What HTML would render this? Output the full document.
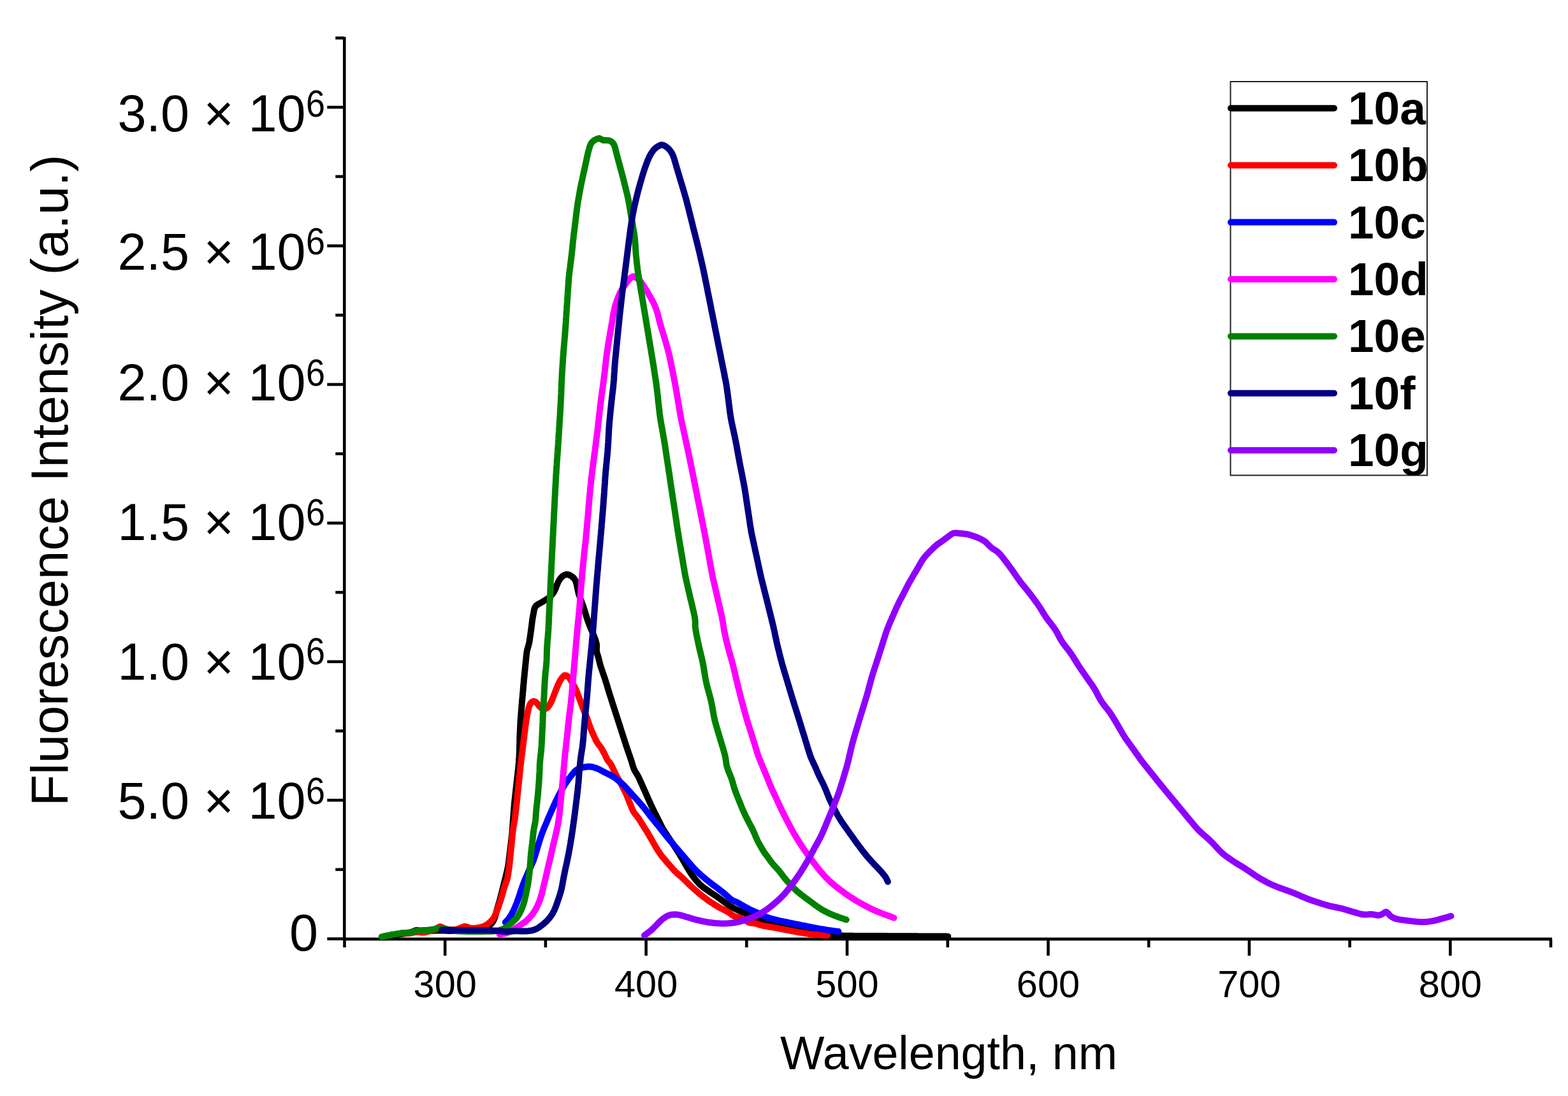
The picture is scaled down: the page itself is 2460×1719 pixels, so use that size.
<!DOCTYPE html>
<html><head><meta charset="utf-8"><style>
html,body{margin:0;padding:0;background:#fff;}
svg{display:block;}
</style></head><body>
<svg xmlns="http://www.w3.org/2000/svg" width="2460" height="1719" viewBox="0 0 2460 1719">
<rect width="2460" height="1719" fill="#fff"/>
<g stroke="#000" stroke-width="4.6" fill="none" stroke-linecap="butt">
<line x1="540.3" y1="58" x2="540.3" y2="1475.2"/>
<line x1="538" y1="1472.9" x2="2435" y2="1472.9"/>
<line x1="513.3" y1="1472.5" x2="540.3" y2="1472.5"/>
<line x1="526.3" y1="1363.8" x2="540.3" y2="1363.8"/>
<line x1="513.3" y1="1255.1" x2="540.3" y2="1255.1"/>
<line x1="526.3" y1="1146.4" x2="540.3" y2="1146.4"/>
<line x1="513.3" y1="1037.8" x2="540.3" y2="1037.8"/>
<line x1="526.3" y1="929.1" x2="540.3" y2="929.1"/>
<line x1="513.3" y1="820.4" x2="540.3" y2="820.4"/>
<line x1="526.3" y1="711.7" x2="540.3" y2="711.7"/>
<line x1="513.3" y1="603.0" x2="540.3" y2="603.0"/>
<line x1="526.3" y1="494.3" x2="540.3" y2="494.3"/>
<line x1="513.3" y1="385.6" x2="540.3" y2="385.6"/>
<line x1="526.3" y1="276.9" x2="540.3" y2="276.9"/>
<line x1="513.3" y1="168.2" x2="540.3" y2="168.2"/>
<line x1="526.3" y1="59.6" x2="540.3" y2="59.6"/>
<line x1="540.5" y1="1472.9" x2="540.5" y2="1485.9"/>
<line x1="698.2" y1="1472.9" x2="698.2" y2="1498.9"/>
<line x1="855.9" y1="1472.9" x2="855.9" y2="1485.9"/>
<line x1="1013.6" y1="1472.9" x2="1013.6" y2="1498.9"/>
<line x1="1171.3" y1="1472.9" x2="1171.3" y2="1485.9"/>
<line x1="1329.0" y1="1472.9" x2="1329.0" y2="1498.9"/>
<line x1="1486.8" y1="1472.9" x2="1486.8" y2="1485.9"/>
<line x1="1644.5" y1="1472.9" x2="1644.5" y2="1498.9"/>
<line x1="1802.2" y1="1472.9" x2="1802.2" y2="1485.9"/>
<line x1="1959.9" y1="1472.9" x2="1959.9" y2="1498.9"/>
<line x1="2117.6" y1="1472.9" x2="2117.6" y2="1485.9"/>
<line x1="2275.3" y1="1472.9" x2="2275.3" y2="1498.9"/>
<line x1="2433.0" y1="1472.9" x2="2433.0" y2="1485.9"/>
</g>
<g font-family="Liberation Sans, Arial, sans-serif" fill="#000">
<text x="479.5" y="1284.0" font-size="81" text-anchor="end">5.0 × 10</text>
<text x="480" y="1260.9" font-size="58.5" textLength="30" lengthAdjust="spacingAndGlyphs">6</text>
<text x="479.5" y="1065.5" font-size="81" text-anchor="end">1.0 × 10</text>
<text x="480" y="1042.4" font-size="58.5" textLength="30" lengthAdjust="spacingAndGlyphs">6</text>
<text x="479.5" y="846.6" font-size="81" text-anchor="end">1.5 × 10</text>
<text x="480" y="823.5" font-size="58.5" textLength="30" lengthAdjust="spacingAndGlyphs">6</text>
<text x="479.5" y="628.1" font-size="81" text-anchor="end">2.0 × 10</text>
<text x="480" y="605.0" font-size="58.5" textLength="30" lengthAdjust="spacingAndGlyphs">6</text>
<text x="479.5" y="422.5" font-size="81" text-anchor="end">2.5 × 10</text>
<text x="480" y="399.4" font-size="58.5" textLength="30" lengthAdjust="spacingAndGlyphs">6</text>
<text x="479.5" y="206.2" font-size="81" text-anchor="end">3.0 × 10</text>
<text x="480" y="183.1" font-size="58.5" textLength="30" lengthAdjust="spacingAndGlyphs">6</text>
<text x="499" y="1491.4" font-size="81" text-anchor="end">0</text>
<text x="698.2" y="1564" font-size="59.5" text-anchor="middle">300</text>
<text x="1013.6" y="1564" font-size="59.5" text-anchor="middle">400</text>
<text x="1329.0" y="1564" font-size="59.5" text-anchor="middle">500</text>
<text x="1644.5" y="1564" font-size="59.5" text-anchor="middle">600</text>
<text x="1959.9" y="1564" font-size="59.5" text-anchor="middle">700</text>
<text x="2275.3" y="1564" font-size="59.5" text-anchor="middle">800</text>
<text x="1488.5" y="1677" font-size="73.6" text-anchor="middle">Wavelength, nm</text>
<text transform="translate(106,753.5) rotate(-90)" font-size="81" text-anchor="middle">Fluorescence Intensity (a.u.)</text>
</g>
<rect x="1930.5" y="128" width="308.5" height="617.5" fill="none" stroke="#222" stroke-width="2"/>
<g font-family="Liberation Sans, Arial, sans-serif" font-weight="bold" font-size="73">
<line x1="1931" y1="169.8" x2="2093" y2="169.8" stroke="#000000" stroke-width="10" stroke-linecap="round"/>
<text x="2115" y="194.8">10a</text>
<line x1="1931" y1="259.2" x2="2093" y2="259.2" stroke="#ff0000" stroke-width="10" stroke-linecap="round"/>
<text x="2115" y="284.2">10b</text>
<line x1="1931" y1="348.6" x2="2093" y2="348.6" stroke="#0000ff" stroke-width="10" stroke-linecap="round"/>
<text x="2115" y="373.6">10c</text>
<line x1="1931" y1="438.0" x2="2093" y2="438.0" stroke="#ff00ff" stroke-width="10" stroke-linecap="round"/>
<text x="2115" y="463.0">10d</text>
<line x1="1931" y1="527.4" x2="2093" y2="527.4" stroke="#008000" stroke-width="10" stroke-linecap="round"/>
<text x="2115" y="552.4">10e</text>
<line x1="1931" y1="616.8" x2="2093" y2="616.8" stroke="#000080" stroke-width="10" stroke-linecap="round"/>
<text x="2115" y="641.8">10f</text>
<line x1="1931" y1="706.2" x2="2093" y2="706.2" stroke="#8f00ff" stroke-width="10" stroke-linecap="round"/>
<text x="2115" y="731.2">10g</text>
</g>
<g fill="none" stroke-width="10" stroke-linejoin="round" stroke-linecap="round">
<path d="M607.3,1468.6 L612.1,1467.8 L615.3,1467.3 L619.2,1466.6 L623.1,1466.0 L627.1,1465.3 L631.0,1464.8 L635.0,1464.2 L639.0,1463.6 L642.9,1462.8 L646.6,1461.6 L650.0,1460.1 L653.2,1459.0 L656.5,1459.3 L660.1,1460.1 L664.0,1460.4 L667.9,1460.3 L671.9,1460.1 L675.9,1459.9 L679.9,1459.7 L683.9,1459.6 L687.9,1459.4 L691.9,1459.5 L696.0,1459.6 L700.0,1459.8 L704.0,1459.9 L708.0,1460.0 L712.0,1460.0 L716.0,1460.0 L720.0,1459.9 L724.0,1459.7 L728.0,1459.5 L732.0,1459.3 L736.0,1459.1 L740.0,1458.9 L744.0,1458.5 L747.9,1457.8 L751.7,1456.8 L755.5,1455.6 L759.4,1454.4 L763.1,1453.2 L766.8,1451.7 L769.9,1449.6 L772.5,1446.8 L774.5,1443.4 L776.1,1439.8 L777.3,1436.0 L778.3,1432.1 L779.3,1428.3 L780.4,1424.4 L781.5,1420.6 L782.6,1416.7 L783.8,1412.9 L784.8,1409.0 L785.9,1405.1 L786.8,1401.3 L787.8,1397.4 L788.8,1393.5 L789.7,1389.6 L790.7,1385.7 L791.7,1381.8 L792.6,1377.9 L793.6,1374.0 L794.6,1370.1 L795.5,1366.3 L796.4,1362.4 L797.2,1358.4 L797.8,1354.5 L798.3,1350.5 L798.7,1346.5 L799.2,1342.5 L799.7,1338.6 L800.2,1334.6 L800.6,1330.6 L801.1,1326.6 L801.6,1322.7 L802.1,1318.7 L802.5,1314.7 L803.0,1310.7 L803.4,1306.7 L803.7,1302.7 L804.0,1298.7 L804.3,1294.7 L804.6,1290.8 L804.9,1286.8 L805.2,1282.8 L805.5,1278.8 L805.8,1274.8 L806.1,1270.8 L806.4,1266.8 L806.8,1262.8 L807.1,1258.8 L807.5,1254.8 L808.0,1250.8 L808.4,1246.9 L808.9,1242.9 L809.3,1238.9 L809.8,1234.9 L810.2,1230.9 L810.6,1227.0 L811.1,1223.0 L811.5,1219.0 L812.0,1215.0 L812.4,1211.0 L812.9,1207.0 L813.3,1203.1 L813.7,1199.1 L814.0,1195.1 L814.2,1191.1 L814.5,1187.1 L814.7,1183.1 L814.9,1179.1 L815.1,1175.1 L815.1,1171.1 L815.2,1167.1 L815.3,1163.1 L815.3,1159.1 L815.4,1155.1 L815.6,1151.1 L815.8,1147.1 L816.0,1143.0 L816.2,1139.0 L816.4,1135.0 L816.6,1131.0 L816.9,1127.1 L817.2,1123.1 L817.5,1119.1 L817.8,1115.1 L818.1,1111.1 L818.4,1107.1 L818.8,1103.1 L819.1,1099.1 L819.5,1095.1 L819.9,1091.1 L820.2,1087.1 L820.6,1083.1 L820.9,1079.1 L821.2,1075.2 L821.6,1071.2 L821.9,1067.2 L822.3,1063.2 L822.7,1059.2 L823.1,1055.2 L823.5,1051.2 L823.9,1047.2 L824.3,1043.3 L824.7,1039.3 L825.1,1035.3 L825.5,1031.3 L825.9,1027.3 L826.4,1023.3 L827.1,1019.4 L828.2,1015.6 L829.3,1011.8 L830.3,1007.9 L830.9,1004.0 L831.5,1000.0 L832.1,996.0 L832.6,992.1 L833.2,988.1 L833.7,984.1 L834.2,980.1 L834.7,976.2 L835.2,972.2 L835.8,968.2 L836.6,964.3 L837.3,960.4 L838.0,956.5 L839.1,952.9 L841.2,949.9 L844.2,947.7 L847.7,945.8 L851.2,943.8 L854.6,941.8 L858.0,939.7 L861.3,937.4 L864.2,934.8 L866.8,931.8 L869.0,928.5 L870.8,925.0 L872.3,921.3 L873.8,917.5 L875.3,913.8 L877.1,910.3 L879.4,907.0 L882.1,904.2 L885.4,902.0 L889.0,900.8 L892.6,901.5 L896.0,903.3 L899.2,905.8 L901.7,908.8 L903.5,912.3 L904.6,916.1 L905.4,920.0 L906.2,923.9 L907.0,927.8 L908.0,931.7 L909.3,935.5 L910.7,939.2 L912.1,942.9 L913.5,946.7 L914.9,950.5 L916.1,954.3 L917.3,958.1 L918.5,961.9 L919.7,965.8 L920.8,969.6 L922.1,973.4 L923.5,977.1 L925.0,980.9 L926.5,984.6 L928.0,988.3 L929.6,992.0 L931.1,995.7 L932.6,999.4 L934.0,1003.1 L935.2,1007.0 L936.0,1010.8 L936.2,1014.6 L935.9,1018.3 L936.0,1022.0 L937.1,1025.7 L938.3,1029.4 L939.4,1033.3 L940.3,1037.2 L941.2,1041.1 L942.3,1044.9 L943.6,1048.7 L944.9,1052.5 L946.2,1056.3 L947.5,1060.1 L948.8,1063.8 L950.0,1067.7 L951.2,1071.5 L952.4,1075.3 L953.5,1079.2 L954.7,1083.0 L955.8,1086.8 L957.0,1090.7 L958.3,1094.5 L959.5,1098.3 L960.7,1102.1 L961.9,1105.9 L963.2,1109.7 L964.4,1113.5 L965.6,1117.4 L966.8,1121.2 L968.1,1125.0 L969.3,1128.8 L970.5,1132.6 L971.8,1136.4 L973.0,1140.2 L974.2,1144.0 L975.4,1147.9 L976.7,1151.7 L977.9,1155.5 L979.1,1159.3 L980.3,1163.1 L981.6,1166.9 L982.8,1170.7 L984.1,1174.5 L985.4,1178.3 L986.7,1182.1 L988.0,1185.9 L989.3,1189.7 L990.6,1193.5 L991.7,1197.3 L992.9,1201.2 L994.1,1204.9 L995.7,1208.6 L997.7,1211.9 L999.8,1215.2 L1001.7,1218.7 L1003.4,1222.3 L1005.0,1226.0 L1006.7,1229.6 L1008.3,1233.3 L1009.9,1237.0 L1011.6,1240.6 L1013.2,1244.3 L1014.8,1247.9 L1016.4,1251.6 L1018.1,1255.3 L1019.7,1258.9 L1021.4,1262.6 L1023.1,1266.2 L1024.8,1269.8 L1026.6,1273.4 L1028.4,1277.0 L1030.2,1280.5 L1032.0,1284.1 L1033.8,1287.7 L1035.6,1291.3 L1037.4,1294.9 L1039.2,1298.4 L1041.2,1301.9 L1043.4,1305.3 L1045.6,1308.6 L1047.8,1311.9 L1050.0,1315.3 L1052.2,1318.6 L1054.5,1321.9 L1056.7,1325.3 L1058.9,1328.6 L1061.1,1332.0 L1063.2,1335.3 L1065.3,1338.8 L1067.4,1342.2 L1069.5,1345.6 L1071.5,1349.1 L1073.5,1352.5 L1075.5,1356.0 L1077.5,1359.5 L1079.6,1362.9 L1081.7,1366.3 L1083.9,1369.7 L1086.1,1373.0 L1088.5,1376.2 L1091.0,1379.3 L1093.6,1382.4 L1096.3,1385.4 L1099.1,1388.2 L1102.1,1390.7 L1105.3,1393.1 L1108.6,1395.4 L1111.9,1397.7 L1115.2,1400.0 L1118.5,1402.2 L1121.9,1404.4 L1125.2,1406.7 L1128.5,1408.9 L1131.7,1411.3 L1134.9,1413.7 L1138.1,1416.1 L1141.3,1418.5 L1144.6,1420.8 L1148.0,1422.8 L1151.6,1424.6 L1155.2,1426.4 L1158.8,1428.1 L1162.5,1429.8 L1166.1,1431.5 L1169.7,1433.1 L1173.4,1434.7 L1177.1,1436.4 L1180.7,1438.0 L1184.4,1439.5 L1188.2,1440.9 L1191.9,1442.3 L1195.7,1443.7 L1199.5,1445.0 L1203.3,1446.2 L1207.1,1447.4 L1211.0,1448.4 L1214.9,1449.5 L1218.7,1450.5 L1222.6,1451.5 L1226.5,1452.6 L1230.3,1453.6 L1234.2,1454.6 L1238.1,1455.6 L1242.0,1456.6 L1245.9,1457.6 L1249.7,1458.6 L1253.6,1459.6 L1257.5,1460.5 L1261.4,1461.3 L1265.4,1462.1 L1269.3,1462.9 L1273.2,1463.6 L1277.2,1464.4 L1281.1,1465.0 L1285.1,1465.5 L1289.1,1465.9 L1293.1,1466.3 L1297.1,1466.7 L1301.0,1466.9 L1305.0,1467.1 L1309.1,1467.2 L1313.1,1467.3 L1317.1,1467.5 L1321.1,1467.6 L1325.1,1467.7 L1329.1,1467.8 L1333.1,1467.8 L1337.1,1467.8 L1341.1,1467.9 L1345.1,1467.9 L1349.1,1467.9 L1353.1,1468.0 L1357.1,1468.0 L1361.1,1468.0 L1365.1,1468.0 L1369.1,1468.0 L1373.1,1468.1 L1377.1,1468.1 L1381.2,1468.1 L1385.2,1468.1 L1389.2,1468.1 L1393.2,1468.2 L1397.2,1468.2 L1401.2,1468.2 L1405.2,1468.2 L1409.2,1468.2 L1413.2,1468.3 L1417.2,1468.3 L1421.2,1468.3 L1425.2,1468.3 L1429.2,1468.3 L1433.2,1468.3 L1437.2,1468.3 L1441.2,1468.4 L1445.3,1468.4 L1449.3,1468.4 L1453.3,1468.4 L1457.3,1468.5 L1461.3,1468.5 L1465.3,1468.5 L1469.3,1468.5 L1473.3,1468.6 L1477.3,1468.6 L1481.0,1468.6 L1483.8,1468.6 L1487.3,1468.7" stroke="#000000"/>
<path d="M630.3,1463.3 L635.1,1463.7 L638.4,1463.8 L642.2,1463.7 L646.0,1463.1 L649.9,1462.1 L653.7,1461.7 L657.5,1462.0 L661.3,1462.6 L665.2,1462.5 L669.0,1461.7 L672.9,1460.6 L676.7,1459.5 L680.5,1458.4 L684.1,1457.0 L687.0,1455.0 L689.4,1453.4 L691.9,1453.6 L694.9,1455.1 L698.4,1456.6 L702.2,1457.7 L706.1,1458.2 L710.1,1458.2 L714.0,1457.9 L717.9,1457.1 L721.6,1455.8 L725.2,1454.2 L728.7,1453.1 L732.0,1453.4 L735.3,1454.8 L738.9,1455.8 L742.7,1455.9 L746.7,1455.5 L750.7,1455.0 L754.6,1454.2 L758.4,1453.0 L762.0,1451.3 L765.3,1449.2 L768.4,1446.7 L771.2,1443.9 L773.7,1440.9 L775.7,1437.5 L777.4,1433.9 L778.9,1430.2 L780.4,1426.4 L781.8,1422.7 L783.0,1418.9 L784.3,1415.1 L785.6,1411.3 L786.8,1407.4 L787.9,1403.6 L789.0,1399.7 L790.0,1395.9 L791.2,1392.0 L792.5,1388.2 L793.9,1384.5 L795.2,1380.7 L796.2,1376.9 L796.9,1373.0 L797.5,1369.0 L798.1,1365.0 L798.7,1361.1 L799.2,1357.1 L799.6,1353.1 L800.0,1349.1 L800.4,1345.1 L800.8,1341.1 L801.2,1337.1 L801.6,1333.1 L802.0,1329.2 L802.4,1325.2 L802.8,1321.2 L803.2,1317.2 L803.6,1313.2 L804.0,1309.2 L804.4,1305.2 L804.9,1301.2 L805.5,1297.3 L806.3,1293.4 L807.0,1289.4 L807.6,1285.5 L808.1,1281.5 L808.6,1277.5 L809.1,1273.5 L809.5,1269.5 L810.0,1265.5 L810.4,1261.6 L810.9,1257.6 L811.3,1253.6 L811.7,1249.6 L812.1,1245.6 L812.5,1241.6 L812.9,1237.6 L813.3,1233.6 L813.7,1229.6 L814.1,1225.7 L814.6,1221.7 L815.0,1217.7 L815.4,1213.7 L815.8,1209.7 L816.2,1205.7 L816.6,1201.7 L817.1,1197.7 L817.6,1193.8 L818.0,1189.8 L818.5,1185.8 L819.0,1181.8 L819.5,1177.8 L820.0,1173.9 L820.5,1169.9 L821.0,1165.9 L821.5,1161.9 L822.0,1157.9 L822.5,1154.0 L823.0,1150.0 L823.5,1146.0 L824.0,1142.0 L824.5,1138.1 L825.0,1134.1 L825.6,1130.1 L826.3,1126.2 L826.9,1122.2 L827.6,1118.3 L828.5,1114.3 L829.4,1110.5 L830.6,1106.7 L832.3,1103.2 L834.7,1100.7 L837.6,1099.8 L840.5,1100.9 L843.0,1103.6 L845.3,1106.7 L847.8,1109.6 L850.9,1111.5 L854.4,1112.0 L857.7,1110.8 L860.3,1108.3 L862.5,1105.0 L864.4,1101.5 L866.1,1097.9 L867.5,1094.2 L869.0,1090.4 L870.4,1086.7 L871.8,1083.0 L873.4,1079.2 L874.9,1075.6 L876.5,1071.9 L878.3,1068.3 L880.4,1065.0 L882.9,1061.9 L885.5,1059.3 L888.5,1059.4 L891.5,1061.6 L894.1,1064.6 L896.1,1068.0 L898.1,1071.5 L900.0,1075.0 L901.9,1078.5 L903.8,1082.1 L905.3,1085.8 L906.7,1089.5 L908.1,1093.3 L909.5,1097.1 L910.9,1100.8 L912.3,1104.6 L913.7,1108.3 L915.2,1112.0 L916.7,1115.8 L918.2,1119.5 L919.7,1123.2 L921.2,1126.9 L922.5,1130.7 L923.8,1134.5 L925.1,1138.3 L926.5,1142.1 L928.0,1145.8 L929.6,1149.4 L931.2,1153.1 L932.9,1156.7 L934.6,1160.4 L936.4,1163.9 L938.5,1167.0 L940.9,1169.9 L943.1,1173.0 L945.1,1176.4 L947.0,1179.8 L948.9,1183.3 L950.5,1186.8 L952.1,1190.4 L954.0,1193.4 L956.4,1196.0 L958.5,1198.9 L960.3,1202.3 L962.0,1206.0 L963.7,1209.6 L965.4,1213.2 L967.3,1216.8 L969.1,1220.3 L971.1,1223.8 L973.1,1227.3 L975.0,1230.8 L976.9,1234.3 L978.7,1237.9 L980.5,1241.5 L982.2,1245.1 L983.8,1248.8 L985.3,1252.5 L986.7,1256.3 L988.2,1260.0 L989.7,1263.7 L991.2,1267.4 L992.9,1271.0 L994.8,1274.5 L997.2,1277.6 L999.7,1280.7 L1002.1,1283.9 L1004.2,1287.3 L1006.4,1290.7 L1008.5,1294.1 L1010.6,1297.5 L1012.7,1300.9 L1014.9,1304.3 L1017.0,1307.7 L1019.0,1311.2 L1021.0,1314.6 L1022.9,1318.1 L1024.9,1321.6 L1026.9,1325.1 L1028.9,1328.6 L1031.0,1332.0 L1033.2,1335.4 L1035.4,1338.7 L1037.7,1342.0 L1040.2,1345.1 L1042.8,1348.1 L1045.4,1351.2 L1048.0,1354.2 L1050.7,1357.3 L1053.3,1360.3 L1055.9,1363.3 L1058.7,1366.2 L1061.6,1369.0 L1064.6,1371.6 L1067.6,1374.3 L1070.6,1376.9 L1073.5,1379.7 L1076.4,1382.5 L1079.2,1385.3 L1082.1,1388.1 L1085.0,1390.9 L1088.0,1393.6 L1091.0,1396.2 L1094.0,1398.8 L1097.0,1401.4 L1100.1,1404.0 L1103.3,1406.4 L1106.5,1408.8 L1109.7,1411.2 L1113.0,1413.6 L1116.3,1415.8 L1119.7,1417.9 L1123.1,1420.1 L1126.5,1422.1 L1130.0,1424.1 L1133.6,1425.9 L1137.2,1427.7 L1140.7,1429.6 L1144.1,1431.6 L1147.2,1433.9 L1150.2,1436.2 L1153.6,1437.7 L1157.4,1438.6 L1161.3,1439.4 L1164.9,1440.7 L1168.3,1442.7 L1171.5,1445.0 L1174.8,1446.9 L1178.3,1447.7 L1182.0,1447.9 L1185.7,1448.5 L1189.5,1449.7 L1193.2,1450.9 L1197.1,1451.9 L1201.0,1452.6 L1205.0,1453.3 L1208.9,1454.0 L1212.9,1454.6 L1216.8,1455.3 L1220.8,1456.0 L1224.7,1456.8 L1228.7,1457.5 L1232.6,1458.3 L1236.5,1459.1 L1240.5,1459.9 L1244.4,1460.7 L1248.3,1461.4 L1252.3,1462.1 L1256.3,1462.7 L1260.2,1463.4 L1264.2,1464.0 L1268.1,1464.7 L1272.1,1465.2 L1276.1,1465.6 L1280.1,1465.9 L1284.1,1466.1 L1288.0,1466.4 L1291.7,1466.6 L1294.5,1466.8 L1298.1,1467.1" stroke="#ff0000"/>
<path d="M792.9,1446.6 L797.1,1442.3 L798.6,1440.1 L800.5,1437.2 L802.5,1434.0 L804.4,1430.5 L806.2,1427.0 L807.8,1423.3 L809.4,1419.6 L810.8,1415.9 L812.2,1412.1 L813.5,1408.3 L814.8,1404.5 L816.0,1400.7 L817.3,1396.9 L818.6,1393.1 L819.9,1389.3 L821.3,1385.6 L822.7,1381.8 L824.3,1378.1 L825.9,1374.4 L827.5,1370.8 L829.1,1367.1 L830.8,1363.5 L832.5,1359.8 L834.1,1356.2 L835.7,1352.5 L837.2,1348.8 L838.5,1345.0 L839.7,1341.2 L840.9,1337.3 L842.0,1333.5 L843.2,1329.7 L844.3,1325.8 L845.5,1322.0 L846.7,1318.1 L847.9,1314.3 L849.2,1310.5 L850.5,1306.8 L852.0,1303.0 L853.5,1299.3 L855.1,1295.6 L856.6,1291.9 L858.2,1288.2 L859.7,1284.5 L861.3,1280.8 L862.9,1277.2 L864.5,1273.5 L866.1,1269.8 L867.7,1266.1 L869.4,1262.5 L871.0,1258.8 L872.8,1255.2 L874.6,1251.6 L876.3,1248.0 L878.2,1244.5 L880.0,1240.9 L882.0,1237.4 L884.1,1234.0 L886.2,1230.6 L888.4,1227.3 L890.7,1224.0 L893.0,1220.7 L895.5,1217.5 L897.9,1214.4 L900.5,1211.3 L903.2,1208.5 L906.5,1206.4 L910.2,1204.9 L914.0,1203.7 L917.9,1203.0 L921.9,1202.5 L925.8,1202.3 L929.7,1203.0 L933.5,1204.2 L937.3,1205.5 L940.9,1207.2 L944.4,1209.1 L948.0,1211.0 L951.6,1212.7 L955.2,1214.5 L958.7,1216.4 L962.1,1218.4 L965.5,1220.6 L968.7,1223.0 L971.8,1225.5 L974.9,1228.1 L977.8,1230.8 L980.6,1233.7 L983.3,1236.6 L986.0,1239.6 L988.6,1242.6 L991.3,1245.6 L994.0,1248.6 L996.8,1251.5 L999.5,1254.5 L1002.1,1257.4 L1004.8,1260.5 L1007.4,1263.5 L1009.9,1266.6 L1012.4,1269.7 L1014.9,1272.9 L1017.3,1276.1 L1019.8,1279.3 L1022.2,1282.4 L1024.8,1285.5 L1027.3,1288.6 L1029.9,1291.7 L1032.5,1294.8 L1034.9,1297.9 L1037.4,1301.1 L1039.8,1304.3 L1042.3,1307.5 L1044.8,1310.6 L1047.3,1313.7 L1049.9,1316.8 L1052.5,1319.8 L1055.1,1322.8 L1057.7,1325.9 L1060.3,1328.9 L1063.0,1332.0 L1065.6,1335.0 L1068.2,1338.1 L1070.8,1341.1 L1073.4,1344.2 L1076.0,1347.2 L1078.6,1350.3 L1081.2,1353.3 L1083.9,1356.3 L1086.5,1359.3 L1089.3,1362.3 L1092.0,1365.1 L1094.9,1368.0 L1097.8,1370.7 L1100.7,1373.4 L1103.8,1376.0 L1106.9,1378.6 L1110.0,1381.1 L1113.1,1383.6 L1116.3,1386.0 L1119.5,1388.4 L1122.7,1390.8 L1126.0,1393.2 L1129.2,1395.7 L1132.3,1398.1 L1135.5,1400.6 L1138.5,1403.2 L1141.5,1405.8 L1144.3,1408.5 L1147.1,1410.8 L1150.0,1412.5 L1153.1,1413.8 L1156.2,1415.1 L1159.4,1416.8 L1162.6,1418.8 L1165.7,1420.6 L1168.9,1422.4 L1172.1,1424.0 L1175.5,1425.8 L1178.9,1427.6 L1182.3,1429.2 L1185.8,1430.7 L1189.4,1432.1 L1193.0,1433.8 L1196.5,1435.5 L1200.1,1437.2 L1203.7,1438.8 L1207.4,1440.1 L1211.2,1441.2 L1215.0,1442.2 L1218.9,1443.1 L1222.8,1444.0 L1226.8,1444.9 L1230.7,1445.7 L1234.6,1446.5 L1238.5,1447.3 L1242.5,1448.1 L1246.4,1448.9 L1250.3,1449.7 L1254.3,1450.5 L1258.2,1451.3 L1262.1,1452.0 L1266.1,1452.8 L1270.0,1453.6 L1273.9,1454.4 L1277.9,1455.1 L1281.8,1455.9 L1285.8,1456.6 L1289.7,1457.3 L1293.7,1457.9 L1297.6,1458.6 L1301.5,1459.2 L1305.1,1459.7 L1308.2,1460.1 L1310.5,1460.4 L1315.5,1461.0" stroke="#0000ff"/>
<path d="M783.7,1465.3 L791.1,1464.4 L793.3,1463.8 L796.0,1462.9 L799.1,1461.5 L802.3,1459.8 L805.6,1457.8 L809.0,1455.7 L812.3,1453.6 L815.7,1451.4 L819.0,1449.2 L822.3,1446.9 L825.4,1444.5 L828.3,1441.8 L831.1,1439.0 L833.7,1436.0 L836.1,1432.9 L838.3,1429.6 L840.4,1426.2 L842.2,1422.7 L843.9,1419.1 L845.5,1415.4 L846.9,1411.7 L848.2,1407.9 L849.4,1404.1 L850.4,1400.2 L851.4,1396.3 L852.3,1392.4 L853.2,1388.6 L854.1,1384.7 L855.1,1380.8 L856.0,1376.9 L856.9,1372.9 L857.8,1369.0 L858.7,1365.1 L859.6,1361.2 L860.5,1357.3 L861.4,1353.4 L862.4,1349.5 L863.3,1345.6 L864.2,1341.7 L865.1,1337.8 L866.0,1333.9 L866.9,1330.0 L867.8,1326.1 L868.7,1322.2 L869.6,1318.3 L870.6,1314.4 L871.5,1310.5 L872.4,1306.6 L873.3,1302.7 L874.1,1298.8 L875.0,1294.9 L875.7,1291.0 L876.3,1287.0 L876.9,1283.1 L877.4,1279.1 L877.8,1275.1 L878.2,1271.1 L878.6,1267.2 L879.0,1263.2 L879.4,1259.2 L879.8,1255.2 L880.2,1251.2 L880.6,1247.2 L881.0,1243.2 L881.4,1239.3 L881.8,1235.3 L882.1,1231.3 L882.5,1227.3 L882.9,1223.3 L883.2,1219.3 L883.6,1215.3 L883.9,1211.3 L884.3,1207.3 L884.6,1203.4 L885.0,1199.4 L885.3,1195.4 L885.7,1191.4 L886.1,1187.4 L886.5,1183.4 L886.9,1179.4 L887.4,1175.5 L887.8,1171.5 L888.3,1167.5 L888.7,1163.5 L889.1,1159.5 L889.6,1155.6 L890.0,1151.6 L890.4,1147.6 L890.8,1143.6 L891.2,1139.6 L891.6,1135.6 L892.1,1131.7 L892.5,1127.7 L893.0,1123.7 L893.5,1119.7 L894.0,1115.8 L894.5,1111.8 L895.0,1107.8 L895.5,1103.8 L895.9,1099.8 L896.3,1095.9 L896.7,1091.9 L897.1,1087.9 L897.4,1083.9 L897.8,1079.9 L898.1,1075.9 L898.5,1071.9 L898.8,1067.9 L899.2,1063.9 L899.5,1060.0 L899.8,1056.0 L900.2,1052.0 L900.5,1048.0 L900.9,1044.0 L901.2,1040.0 L901.6,1036.0 L901.9,1032.0 L902.2,1028.0 L902.6,1024.0 L902.9,1020.0 L903.3,1016.1 L903.6,1012.1 L903.9,1008.1 L904.3,1004.1 L904.6,1000.1 L905.0,996.1 L905.4,992.1 L905.7,988.1 L906.1,984.1 L906.5,980.1 L906.9,976.2 L907.3,972.2 L907.7,968.2 L908.1,964.2 L908.5,960.2 L908.8,956.2 L909.2,952.2 L909.5,948.2 L909.8,944.3 L910.1,940.3 L910.4,936.3 L910.7,932.3 L911.0,928.3 L911.3,924.3 L911.6,920.3 L912.0,916.3 L912.3,912.3 L912.7,908.3 L913.0,904.3 L913.4,900.3 L913.7,896.3 L914.1,892.4 L914.5,888.4 L914.9,884.4 L915.3,880.4 L915.7,876.4 L916.1,872.4 L916.5,868.4 L917.0,864.5 L917.4,860.5 L917.8,856.5 L918.3,852.5 L918.7,848.5 L919.1,844.6 L919.5,840.6 L919.8,836.6 L920.2,832.6 L920.6,828.6 L920.9,824.6 L921.3,820.6 L921.7,816.6 L922.0,812.6 L922.4,808.7 L922.7,804.7 L923.1,800.7 L923.4,796.7 L923.7,792.7 L924.1,788.7 L924.4,784.7 L924.8,780.7 L925.1,776.7 L925.5,772.7 L925.9,768.7 L926.2,764.8 L926.7,760.8 L927.1,756.8 L927.5,752.8 L927.9,748.8 L928.4,744.9 L928.9,740.9 L929.4,736.9 L929.9,732.9 L930.4,729.0 L930.9,725.0 L931.5,721.0 L932.0,717.0 L932.5,713.1 L933.1,709.1 L933.6,705.1 L934.1,701.2 L934.6,697.2 L935.1,693.2 L935.6,689.2 L936.1,685.3 L936.6,681.3 L937.1,677.3 L937.6,673.3 L938.1,669.4 L938.5,665.4 L939.0,661.4 L939.4,657.4 L939.9,653.4 L940.3,649.5 L940.7,645.5 L941.2,641.5 L941.6,637.5 L942.1,633.5 L942.6,629.6 L943.1,625.6 L943.6,621.6 L944.2,617.7 L944.7,613.7 L945.3,609.7 L945.8,605.8 L946.4,601.8 L946.9,597.8 L947.4,593.8 L947.9,589.9 L948.4,585.9 L948.9,581.9 L949.3,577.9 L949.7,574.0 L950.2,570.0 L950.6,566.0 L951.1,562.0 L951.6,558.0 L952.1,554.1 L952.7,550.1 L953.3,546.2 L953.9,542.2 L954.6,538.2 L955.2,534.3 L955.9,530.3 L956.5,526.4 L957.2,522.4 L957.9,518.5 L958.6,514.6 L959.3,510.6 L960.0,506.7 L960.6,502.7 L961.3,498.8 L961.9,494.8 L962.6,490.9 L963.4,487.0 L964.3,483.1 L965.3,479.2 L966.5,475.4 L967.8,471.6 L969.1,467.9 L970.6,464.2 L972.2,460.5 L974.0,457.0 L976.0,453.6 L978.3,450.3 L980.6,447.0 L983.0,443.8 L985.4,440.6 L988.0,437.6 L990.7,434.8 L993.5,433.4 L996.7,434.7 L1000.0,436.9 L1003.1,439.4 L1005.6,442.4 L1007.9,445.7 L1010.2,449.0 L1012.3,452.4 L1014.4,455.8 L1016.5,459.2 L1018.5,462.7 L1020.4,466.2 L1022.4,469.7 L1024.3,473.2 L1026.1,476.8 L1027.7,480.4 L1029.2,484.1 L1030.5,487.8 L1031.6,491.6 L1032.6,495.5 L1033.6,499.4 L1034.5,503.3 L1035.6,507.1 L1036.6,511.0 L1037.8,514.8 L1039.0,518.7 L1040.2,522.5 L1041.4,526.3 L1042.5,530.1 L1043.7,534.0 L1044.8,537.8 L1045.9,541.7 L1047.0,545.5 L1048.0,549.4 L1049.0,553.3 L1050.0,557.1 L1050.9,561.1 L1051.7,565.0 L1052.5,568.9 L1053.3,572.8 L1054.1,576.7 L1054.9,580.7 L1055.7,584.6 L1056.4,588.5 L1057.2,592.5 L1058.0,596.4 L1058.8,600.3 L1059.5,604.3 L1060.2,608.2 L1060.9,612.1 L1061.6,616.1 L1062.2,620.0 L1062.9,624.0 L1063.6,627.9 L1064.2,631.9 L1064.9,635.8 L1065.5,639.8 L1066.2,643.7 L1066.9,647.7 L1067.6,651.6 L1068.3,655.6 L1069.1,659.5 L1069.9,663.4 L1070.8,667.3 L1071.6,671.2 L1072.5,675.2 L1073.3,679.1 L1074.2,683.0 L1075.0,686.9 L1075.9,690.8 L1076.7,694.7 L1077.6,698.6 L1078.4,702.6 L1079.3,706.5 L1080.1,710.4 L1080.9,714.3 L1081.8,718.2 L1082.6,722.1 L1083.4,726.1 L1084.2,730.0 L1085.0,733.9 L1085.8,737.8 L1086.6,741.8 L1087.4,745.7 L1088.2,749.6 L1088.9,753.6 L1089.7,757.5 L1090.5,761.4 L1091.3,765.3 L1092.1,769.3 L1092.9,773.2 L1093.7,777.1 L1094.4,781.0 L1095.2,785.0 L1096.0,788.9 L1096.8,792.8 L1097.6,796.8 L1098.4,800.7 L1099.2,804.6 L1099.9,808.5 L1100.7,812.5 L1101.5,816.4 L1102.3,820.3 L1103.1,824.3 L1103.8,828.2 L1104.6,832.1 L1105.4,836.0 L1106.1,840.0 L1106.9,843.9 L1107.6,847.9 L1108.3,851.8 L1109.1,855.7 L1109.8,859.7 L1110.5,863.6 L1111.3,867.5 L1112.0,871.5 L1112.7,875.4 L1113.4,879.4 L1114.1,883.3 L1114.8,887.3 L1115.6,891.2 L1116.3,895.1 L1117.0,899.1 L1117.8,903.0 L1118.6,906.9 L1119.5,910.8 L1120.4,914.7 L1121.3,918.6 L1122.2,922.5 L1123.1,926.4 L1124.0,930.3 L1124.9,934.2 L1125.8,938.1 L1126.7,942.0 L1127.6,945.9 L1128.5,949.8 L1129.4,953.7 L1130.3,957.6 L1131.2,961.6 L1132.1,965.5 L1132.9,969.4 L1133.6,973.3 L1134.3,977.2 L1134.9,981.1 L1135.5,985.1 L1136.2,989.0 L1137.0,992.9 L1137.8,996.8 L1138.7,1000.8 L1139.5,1004.7 L1140.5,1008.6 L1141.4,1012.4 L1142.5,1016.3 L1143.5,1020.2 L1144.6,1024.0 L1145.7,1027.9 L1146.8,1031.7 L1147.9,1035.6 L1148.9,1039.5 L1149.9,1043.3 L1150.9,1047.2 L1151.8,1051.1 L1152.8,1055.0 L1153.7,1058.9 L1154.6,1062.8 L1155.6,1066.7 L1156.5,1070.6 L1157.4,1074.5 L1158.4,1078.4 L1159.4,1082.3 L1160.3,1086.1 L1161.3,1090.0 L1162.3,1093.9 L1163.3,1097.8 L1164.3,1101.7 L1165.4,1105.5 L1166.4,1109.4 L1167.5,1113.3 L1168.5,1117.1 L1169.6,1121.0 L1170.7,1124.8 L1171.8,1128.7 L1173.0,1132.5 L1174.2,1136.3 L1175.4,1140.1 L1176.6,1144.0 L1177.9,1147.8 L1179.1,1151.6 L1180.3,1155.4 L1181.5,1159.2 L1182.7,1163.0 L1183.9,1166.9 L1185.0,1170.7 L1186.2,1174.5 L1187.4,1178.4 L1188.6,1182.2 L1189.9,1186.0 L1191.3,1189.7 L1192.8,1193.4 L1194.3,1197.1 L1195.9,1200.8 L1197.4,1204.5 L1199.0,1208.2 L1200.5,1211.9 L1202.0,1215.6 L1203.5,1219.3 L1205.0,1223.0 L1206.4,1226.7 L1207.9,1230.4 L1209.5,1234.1 L1211.1,1237.7 L1212.8,1241.4 L1214.5,1245.0 L1216.2,1248.6 L1217.9,1252.2 L1219.6,1255.9 L1221.2,1259.5 L1222.9,1263.2 L1224.6,1266.8 L1226.4,1270.4 L1228.2,1274.0 L1229.9,1277.6 L1231.7,1281.1 L1233.5,1284.7 L1235.4,1288.3 L1237.2,1291.8 L1239.1,1295.4 L1241.0,1298.9 L1242.9,1302.4 L1244.9,1305.9 L1246.9,1309.3 L1249.0,1312.8 L1251.0,1316.2 L1253.2,1319.6 L1255.3,1323.0 L1257.5,1326.3 L1259.7,1329.7 L1262.0,1333.0 L1264.3,1336.3 L1266.6,1339.5 L1269.0,1342.7 L1271.4,1345.9 L1273.8,1349.2 L1276.2,1352.4 L1278.6,1355.6 L1281.0,1358.7 L1283.5,1361.9 L1286.0,1365.0 L1288.5,1368.1 L1291.1,1371.1 L1293.8,1374.1 L1296.6,1377.0 L1299.4,1379.8 L1302.3,1382.5 L1305.3,1385.2 L1308.4,1387.8 L1311.5,1390.3 L1314.6,1392.8 L1317.8,1395.2 L1321.0,1397.6 L1324.2,1400.0 L1327.5,1402.3 L1330.8,1404.6 L1334.1,1406.8 L1337.5,1409.0 L1340.8,1411.1 L1344.3,1413.2 L1347.7,1415.2 L1351.2,1417.2 L1354.7,1419.1 L1358.2,1421.0 L1361.8,1422.9 L1365.4,1424.7 L1369.0,1426.4 L1372.6,1428.1 L1376.2,1429.7 L1379.9,1431.2 L1383.6,1432.6 L1387.1,1433.9 L1390.4,1435.1 L1393.1,1436.1 L1395.4,1436.9 L1402.4,1439.6" stroke="#ff00ff"/>
<path d="M598.7,1469.3 L604.7,1468.0 L607.3,1467.5 L610.7,1466.8 L614.4,1466.0 L618.3,1465.4 L622.3,1464.8 L626.2,1464.3 L630.2,1463.8 L634.2,1463.4 L638.2,1463.0 L642.1,1462.5 L645.9,1461.8 L649.6,1461.0 L653.3,1460.1 L657.0,1459.5 L660.9,1459.3 L664.8,1459.1 L668.8,1458.9 L672.8,1458.5 L676.7,1458.0 L680.6,1457.3 L684.4,1456.5 L688.1,1455.8 L691.7,1455.7 L695.3,1456.2 L698.9,1457.1 L702.7,1458.0 L706.5,1458.8 L710.5,1459.5 L714.4,1460.0 L718.4,1460.4 L722.4,1460.6 L726.4,1460.8 L730.4,1460.8 L734.4,1460.9 L738.4,1460.9 L742.4,1460.9 L746.4,1461.0 L750.4,1460.9 L754.4,1460.9 L758.4,1460.9 L762.4,1460.8 L766.4,1460.8 L770.4,1460.7 L774.4,1460.4 L778.4,1460.0 L782.3,1459.4 L786.0,1458.4 L789.6,1457.0 L792.9,1455.0 L796.1,1452.7 L799.2,1450.2 L802.3,1447.6 L805.3,1445.0 L808.2,1442.3 L810.8,1439.4 L813.0,1436.2 L815.0,1432.8 L816.8,1429.2 L818.4,1425.6 L820.0,1421.9 L821.3,1418.2 L822.4,1414.3 L823.4,1410.5 L824.3,1406.6 L825.1,1402.7 L826.0,1398.7 L826.7,1394.8 L827.5,1390.9 L828.2,1386.9 L828.9,1383.0 L829.4,1379.0 L829.9,1375.1 L830.4,1371.1 L830.8,1367.1 L831.2,1363.1 L831.5,1359.1 L831.8,1355.2 L832.1,1351.2 L832.4,1347.2 L832.7,1343.2 L833.0,1339.2 L833.5,1335.2 L833.9,1331.2 L834.4,1327.3 L834.9,1323.3 L835.3,1319.3 L835.8,1315.3 L836.2,1311.4 L836.6,1307.4 L837.1,1303.4 L837.7,1299.5 L838.5,1295.5 L839.3,1291.6 L839.9,1287.7 L840.4,1283.8 L840.6,1279.9 L840.9,1275.9 L841.2,1272.0 L841.6,1268.0 L842.0,1264.0 L842.5,1260.0 L842.9,1256.1 L843.3,1252.1 L843.8,1248.1 L844.1,1244.1 L844.4,1240.1 L844.8,1236.1 L845.1,1232.1 L845.4,1228.2 L845.7,1224.2 L845.9,1220.2 L846.2,1216.2 L846.4,1212.2 L846.6,1208.2 L846.7,1204.2 L846.8,1200.2 L847.1,1196.2 L847.4,1192.2 L847.8,1188.2 L848.2,1184.3 L848.7,1180.3 L849.1,1176.3 L849.4,1172.3 L849.7,1168.3 L849.9,1164.3 L850.1,1160.3 L850.3,1156.3 L850.5,1152.3 L850.7,1148.3 L850.9,1144.3 L851.1,1140.3 L851.3,1136.3 L851.5,1132.4 L851.6,1128.3 L851.7,1124.3 L851.9,1120.3 L852.0,1116.3 L852.2,1112.4 L852.4,1108.4 L852.7,1104.4 L853.0,1100.4 L853.3,1096.4 L853.5,1092.4 L853.7,1088.4 L853.9,1084.4 L854.1,1080.4 L854.3,1076.4 L854.5,1072.4 L854.8,1068.4 L855.0,1064.4 L855.3,1060.4 L855.6,1056.4 L856.0,1052.5 L856.5,1048.5 L856.9,1044.5 L857.2,1040.5 L857.5,1036.5 L857.7,1032.5 L857.8,1028.5 L857.9,1024.5 L858.0,1020.5 L858.2,1016.5 L858.4,1012.5 L858.7,1008.6 L859.0,1004.6 L859.4,1000.6 L859.7,996.6 L860.0,992.6 L860.3,988.6 L860.5,984.6 L860.7,980.6 L860.9,976.6 L861.1,972.6 L861.2,968.6 L861.4,964.6 L861.6,960.6 L861.8,956.6 L862.0,952.6 L862.2,948.6 L862.5,944.6 L862.7,940.6 L862.9,936.6 L863.1,932.6 L863.3,928.6 L863.4,924.6 L863.6,920.6 L863.8,916.6 L863.9,912.6 L864.1,908.6 L864.3,904.7 L864.5,900.7 L864.7,896.7 L864.9,892.7 L865.1,888.7 L865.3,884.7 L865.5,880.7 L865.7,876.7 L865.9,872.7 L866.1,868.7 L866.3,864.7 L866.5,860.7 L866.7,856.7 L866.9,852.7 L867.1,848.7 L867.3,844.7 L867.5,840.7 L867.7,836.7 L867.9,832.7 L868.1,828.7 L868.3,824.7 L868.5,820.7 L868.7,816.7 L868.9,812.7 L869.1,808.7 L869.3,804.7 L869.5,800.7 L869.7,796.7 L869.9,792.7 L870.1,788.7 L870.3,784.7 L870.5,780.7 L870.7,776.7 L870.9,772.7 L871.1,768.7 L871.3,764.7 L871.6,760.7 L871.8,756.7 L872.0,752.7 L872.2,748.7 L872.4,744.7 L872.7,740.7 L872.9,736.7 L873.2,732.8 L873.5,728.8 L873.7,724.8 L874.0,720.8 L874.3,716.8 L874.6,712.8 L874.9,708.8 L875.1,704.8 L875.4,700.8 L875.7,696.8 L875.9,692.8 L876.2,688.8 L876.4,684.8 L876.7,680.8 L877.0,676.8 L877.2,672.8 L877.5,668.9 L877.7,664.9 L878.0,660.9 L878.2,656.9 L878.5,652.9 L878.7,648.9 L878.9,644.9 L879.2,640.9 L879.4,636.9 L879.6,632.9 L879.8,628.9 L880.0,624.9 L880.2,620.9 L880.4,616.9 L880.5,612.9 L880.7,608.9 L880.8,604.9 L881.0,600.9 L881.2,596.9 L881.4,592.9 L881.6,588.9 L881.8,584.9 L882.1,580.9 L882.3,576.9 L882.6,572.9 L882.9,568.9 L883.1,564.9 L883.4,560.9 L883.7,556.9 L884.0,553.0 L884.3,549.0 L884.6,545.0 L885.0,541.0 L885.3,537.0 L885.6,533.0 L886.0,529.0 L886.3,525.0 L886.6,521.0 L886.9,517.1 L887.2,513.1 L887.5,509.1 L887.8,505.1 L888.0,501.1 L888.3,497.1 L888.5,493.1 L888.8,489.1 L889.1,485.1 L889.3,481.1 L889.6,477.1 L889.9,473.1 L890.1,469.1 L890.4,465.1 L890.7,461.1 L890.9,457.1 L891.2,453.1 L891.5,449.2 L891.8,445.2 L892.0,441.2 L892.3,437.2 L892.7,433.2 L893.1,429.2 L893.6,425.2 L894.1,421.3 L894.6,417.3 L895.1,413.3 L895.6,409.4 L896.1,405.4 L896.6,401.4 L897.1,397.4 L897.5,393.5 L897.9,389.5 L898.3,385.5 L898.7,381.5 L899.1,377.5 L899.6,373.6 L900.0,369.6 L900.5,365.6 L901.0,361.6 L901.5,357.7 L902.0,353.7 L902.5,349.7 L902.9,345.7 L903.4,341.8 L903.9,337.8 L904.4,333.8 L904.9,329.8 L905.4,325.9 L906.0,321.9 L906.5,318.0 L907.2,314.0 L907.9,310.1 L908.6,306.1 L909.3,302.2 L910.0,298.2 L910.8,294.3 L911.5,290.4 L912.3,286.5 L913.2,282.6 L914.0,278.6 L914.9,274.7 L915.7,270.8 L916.6,266.9 L917.4,263.0 L918.3,259.1 L919.1,255.2 L920.0,251.3 L920.8,247.3 L921.7,243.4 L922.6,239.5 L923.6,235.7 L924.7,231.8 L925.9,228.1 L927.6,224.6 L930.1,221.7 L933.3,219.4 L936.9,217.7 L940.4,217.0 L943.4,218.6 L946.5,220.1 L950.1,220.1 L954.0,220.2 L957.7,221.1 L960.8,223.3 L963.1,226.4 L964.5,230.0 L965.5,233.8 L966.5,237.7 L967.5,241.6 L968.4,245.4 L969.5,249.3 L970.5,253.2 L971.6,257.0 L972.6,260.9 L973.7,264.8 L974.7,268.6 L975.8,272.5 L976.8,276.4 L977.8,280.2 L978.8,284.1 L979.7,288.0 L980.7,291.9 L981.7,295.8 L982.6,299.7 L983.6,303.5 L984.5,307.4 L985.4,311.3 L986.2,315.3 L986.9,319.2 L987.6,323.1 L988.3,327.1 L988.9,331.0 L989.5,335.0 L990.2,338.9 L990.9,342.9 L991.6,346.8 L992.3,350.8 L992.9,354.7 L993.6,358.7 L994.3,362.6 L994.9,366.6 L995.5,370.5 L996.0,374.5 L996.3,378.5 L996.6,382.5 L996.9,386.4 L997.1,390.4 L997.4,394.4 L997.7,398.4 L998.1,402.4 L998.5,406.4 L998.9,410.4 L999.3,414.4 L999.8,418.3 L1000.3,422.3 L1000.8,426.3 L1001.4,430.2 L1002.1,434.2 L1002.7,438.1 L1003.4,442.1 L1004.1,446.0 L1004.7,450.0 L1005.4,453.9 L1006.0,457.9 L1006.7,461.8 L1007.4,465.8 L1008.0,469.7 L1008.7,473.7 L1009.3,477.6 L1010.0,481.5 L1010.6,485.5 L1011.3,489.4 L1012.0,493.4 L1012.6,497.3 L1013.3,501.3 L1013.9,505.2 L1014.6,509.2 L1015.2,513.1 L1015.9,517.1 L1016.6,521.0 L1017.2,525.0 L1017.9,528.9 L1018.5,532.9 L1019.2,536.8 L1019.9,540.8 L1020.5,544.7 L1021.2,548.7 L1021.8,552.6 L1022.5,556.6 L1023.1,560.5 L1023.8,564.5 L1024.4,568.4 L1025.1,572.4 L1025.7,576.3 L1026.3,580.3 L1026.9,584.2 L1027.5,588.2 L1028.1,592.2 L1028.7,596.1 L1029.3,600.1 L1029.8,604.0 L1030.3,608.0 L1030.8,612.0 L1031.3,616.0 L1031.7,619.9 L1032.2,623.9 L1032.6,627.9 L1033.0,631.9 L1033.5,635.8 L1033.9,639.8 L1034.4,643.8 L1034.8,647.8 L1035.3,651.8 L1035.9,655.7 L1036.5,659.7 L1037.2,663.6 L1037.9,667.6 L1038.6,671.5 L1039.3,675.4 L1040.0,679.4 L1040.7,683.3 L1041.4,687.3 L1042.0,691.2 L1042.7,695.2 L1043.3,699.1 L1043.9,703.1 L1044.5,707.0 L1045.1,711.0 L1045.7,714.9 L1046.3,718.9 L1046.9,722.9 L1047.5,726.8 L1048.1,730.8 L1048.7,734.7 L1049.3,738.7 L1049.9,742.6 L1050.5,746.6 L1051.0,750.6 L1051.6,754.5 L1052.2,758.5 L1052.8,762.4 L1053.4,766.4 L1054.0,770.4 L1054.6,774.3 L1055.2,778.3 L1055.8,782.2 L1056.4,786.2 L1057.0,790.1 L1057.6,794.1 L1058.2,798.1 L1058.8,802.0 L1059.4,806.0 L1060.0,809.9 L1060.6,813.9 L1061.2,817.9 L1061.7,821.8 L1062.3,825.8 L1062.9,829.7 L1063.5,833.7 L1064.2,837.7 L1064.8,841.6 L1065.5,845.6 L1066.1,849.5 L1066.8,853.4 L1067.4,857.4 L1068.1,861.3 L1068.7,865.3 L1069.4,869.2 L1070.1,873.2 L1070.7,877.1 L1071.4,881.1 L1072.0,885.0 L1072.7,889.0 L1073.4,892.9 L1074.0,896.9 L1074.7,900.8 L1075.5,904.7 L1076.3,908.7 L1077.2,912.6 L1078.1,916.5 L1079.0,920.4 L1079.9,924.3 L1080.8,928.2 L1081.7,932.1 L1082.6,936.0 L1083.5,939.9 L1084.5,943.8 L1085.4,947.7 L1086.3,951.6 L1087.2,955.5 L1088.1,959.3 L1089.0,963.2 L1089.8,967.1 L1090.4,971.0 L1090.7,974.8 L1090.7,978.6 L1090.8,982.5 L1091.2,986.3 L1091.8,990.2 L1092.5,994.2 L1093.3,998.1 L1094.1,1002.0 L1094.9,1005.9 L1095.7,1009.8 L1096.6,1013.8 L1097.5,1017.7 L1098.4,1021.5 L1099.4,1025.4 L1100.3,1029.3 L1101.2,1033.2 L1102.1,1037.1 L1102.9,1041.1 L1103.6,1045.0 L1104.3,1048.9 L1104.9,1052.9 L1105.6,1056.8 L1106.2,1060.8 L1106.9,1064.7 L1107.7,1068.7 L1108.5,1072.6 L1109.5,1076.4 L1110.5,1080.3 L1111.6,1084.2 L1112.6,1088.0 L1113.7,1091.9 L1114.7,1095.8 L1115.6,1099.6 L1116.4,1103.6 L1117.2,1107.5 L1117.9,1111.4 L1118.6,1115.4 L1119.3,1119.3 L1120.0,1123.2 L1120.8,1127.2 L1121.7,1131.1 L1122.8,1134.9 L1123.9,1138.8 L1125.0,1142.6 L1126.1,1146.4 L1127.3,1150.3 L1128.4,1154.1 L1129.6,1157.9 L1130.7,1161.8 L1131.9,1165.6 L1133.0,1169.4 L1134.2,1173.3 L1135.3,1177.1 L1136.4,1180.9 L1137.4,1184.8 L1138.2,1188.7 L1138.8,1192.6 L1139.3,1196.5 L1140.0,1200.4 L1141.0,1204.2 L1142.3,1207.9 L1143.8,1211.6 L1145.3,1215.3 L1146.8,1218.9 L1148.1,1222.6 L1149.3,1226.4 L1150.3,1230.2 L1151.4,1234.1 L1152.6,1237.9 L1153.9,1241.6 L1155.4,1245.4 L1156.8,1249.1 L1158.3,1252.8 L1159.8,1256.5 L1161.3,1260.2 L1162.8,1264.0 L1164.3,1267.7 L1165.9,1271.3 L1167.5,1275.0 L1169.2,1278.6 L1171.0,1282.2 L1172.8,1285.8 L1174.6,1289.3 L1176.5,1292.9 L1178.4,1296.4 L1180.2,1299.9 L1181.9,1303.5 L1183.6,1307.2 L1185.1,1310.9 L1186.7,1314.6 L1188.3,1318.2 L1190.1,1321.7 L1192.1,1325.2 L1194.1,1328.7 L1196.1,1332.1 L1198.1,1335.5 L1200.4,1338.8 L1202.8,1342.0 L1205.1,1345.1 L1207.4,1348.4 L1209.7,1351.6 L1212.2,1354.7 L1214.8,1357.7 L1217.5,1360.6 L1220.2,1363.6 L1222.8,1366.6 L1225.3,1369.7 L1227.7,1372.9 L1230.1,1376.1 L1232.6,1379.2 L1235.2,1382.2 L1238.0,1385.1 L1240.8,1387.9 L1243.5,1390.8 L1246.2,1393.7 L1249.0,1396.5 L1252.0,1399.2 L1255.1,1401.7 L1258.2,1404.1 L1261.4,1406.5 L1264.6,1408.9 L1267.8,1411.3 L1271.1,1413.7 L1274.3,1416.1 L1277.5,1418.5 L1280.7,1420.8 L1284.0,1423.1 L1287.4,1425.3 L1290.8,1427.4 L1294.3,1429.3 L1297.8,1431.1 L1301.5,1432.8 L1305.1,1434.3 L1308.8,1435.9 L1312.5,1437.3 L1316.1,1438.6 L1319.3,1439.7 L1321.9,1440.6 L1327.7,1442.5" stroke="#008000"/>
<path d="M693.3,1458.6 L700.2,1458.7 L702.7,1458.7 L705.9,1458.8 L709.5,1458.8 L713.4,1458.9 L717.4,1458.9 L721.4,1459.0 L725.4,1459.0 L729.4,1459.0 L733.4,1459.0 L737.4,1459.0 L741.4,1459.0 L745.4,1459.0 L749.4,1459.0 L753.4,1459.1 L757.4,1459.1 L761.4,1459.2 L765.4,1459.2 L769.4,1459.3 L773.4,1459.5 L777.4,1459.7 L781.4,1460.0 L785.3,1460.4 L789.3,1460.7 L793.2,1460.9 L797.1,1460.9 L800.9,1460.7 L804.7,1460.4 L808.5,1460.3 L812.4,1460.3 L816.4,1460.4 L820.3,1460.5 L824.3,1460.5 L828.3,1460.3 L832.2,1459.8 L836.0,1459.0 L839.6,1457.7 L843.1,1456.1 L846.4,1454.0 L849.6,1451.6 L852.7,1449.1 L855.7,1446.5 L858.6,1443.8 L861.2,1440.8 L863.7,1437.7 L865.9,1434.4 L867.9,1431.0 L869.7,1427.5 L871.3,1423.8 L872.7,1420.1 L874.1,1416.3 L875.3,1412.5 L876.6,1408.8 L877.8,1405.0 L879.0,1401.2 L880.1,1397.3 L881.1,1393.5 L881.9,1389.6 L882.6,1385.6 L883.3,1381.7 L884.0,1377.8 L884.8,1373.8 L885.6,1369.9 L886.4,1366.0 L887.2,1362.1 L888.1,1358.2 L889.0,1354.2 L889.8,1350.3 L890.6,1346.4 L891.4,1342.5 L892.2,1338.6 L892.9,1334.6 L893.6,1330.7 L894.3,1326.7 L895.0,1322.8 L895.6,1318.8 L896.3,1314.9 L896.9,1310.9 L897.5,1307.0 L898.1,1303.0 L898.7,1299.1 L899.2,1295.1 L899.8,1291.1 L900.3,1287.2 L900.9,1283.2 L901.4,1279.2 L901.9,1275.3 L902.4,1271.3 L902.9,1267.3 L903.4,1263.3 L903.9,1259.4 L904.4,1255.4 L904.9,1251.4 L905.4,1247.4 L905.8,1243.5 L906.3,1239.5 L906.7,1235.5 L907.1,1231.5 L907.5,1227.5 L907.8,1223.6 L908.1,1219.6 L908.4,1215.6 L908.7,1211.6 L909.1,1207.6 L909.5,1203.6 L909.9,1199.6 L910.3,1195.6 L910.7,1191.7 L911.2,1187.7 L911.8,1183.7 L912.4,1179.8 L913.0,1175.9 L913.7,1171.9 L914.2,1168.0 L914.6,1164.0 L915.0,1160.0 L915.3,1156.0 L915.6,1152.0 L915.9,1148.0 L916.2,1144.0 L916.5,1140.0 L916.8,1136.1 L917.2,1132.1 L917.6,1128.1 L917.9,1124.1 L918.3,1120.1 L918.7,1116.1 L919.1,1112.1 L919.5,1108.2 L919.9,1104.2 L920.3,1100.2 L920.6,1096.2 L921.0,1092.2 L921.3,1088.2 L921.6,1084.2 L921.9,1080.2 L922.2,1076.2 L922.5,1072.3 L922.8,1068.3 L923.1,1064.3 L923.5,1060.3 L923.8,1056.3 L924.2,1052.3 L924.6,1048.3 L925.0,1044.3 L925.4,1040.4 L925.8,1036.4 L926.2,1032.4 L926.6,1028.4 L927.0,1024.4 L927.4,1020.4 L927.8,1016.4 L928.2,1012.5 L928.6,1008.5 L928.9,1004.5 L929.3,1000.5 L929.7,996.5 L930.1,992.5 L930.4,988.5 L930.7,984.6 L931.0,980.6 L931.3,976.6 L931.6,972.6 L931.9,968.6 L932.2,964.6 L932.5,960.6 L932.8,956.6 L933.1,952.6 L933.4,948.6 L933.7,944.6 L934.0,940.6 L934.3,936.6 L934.6,932.7 L934.9,928.7 L935.2,924.7 L935.5,920.7 L935.8,916.7 L936.2,912.7 L936.5,908.7 L936.8,904.7 L937.2,900.7 L937.5,896.7 L937.9,892.7 L938.2,888.8 L938.5,884.8 L938.9,880.8 L939.2,876.8 L939.6,872.8 L940.0,868.8 L940.3,864.8 L940.7,860.8 L941.0,856.9 L941.4,852.9 L941.7,848.9 L942.1,844.9 L942.4,840.9 L942.8,836.9 L943.1,832.9 L943.5,828.9 L943.8,824.9 L944.1,821.0 L944.5,817.0 L944.8,813.0 L945.1,809.0 L945.5,805.0 L945.8,801.0 L946.1,797.0 L946.4,793.0 L946.7,789.0 L947.0,785.0 L947.3,781.0 L947.6,777.0 L947.9,773.1 L948.1,769.1 L948.4,765.1 L948.7,761.1 L949.0,757.1 L949.2,753.1 L949.5,749.1 L949.8,745.1 L950.1,741.1 L950.5,737.1 L950.9,733.1 L951.2,729.1 L951.6,725.2 L952.0,721.2 L952.4,717.2 L952.8,713.2 L953.2,709.2 L953.5,705.2 L953.8,701.2 L954.0,697.2 L954.3,693.3 L954.5,689.3 L954.7,685.3 L954.9,681.3 L955.1,677.3 L955.3,673.3 L955.6,669.3 L955.9,665.3 L956.2,661.3 L956.6,657.3 L957.0,653.3 L957.4,649.3 L957.7,645.3 L958.2,641.4 L958.6,637.4 L959.0,633.4 L959.4,629.4 L959.9,625.4 L960.3,621.5 L960.8,617.5 L961.3,613.5 L961.8,609.5 L962.2,605.6 L962.5,601.6 L962.9,597.6 L963.2,593.6 L963.4,589.6 L963.7,585.6 L964.0,581.6 L964.2,577.6 L964.5,573.6 L964.8,569.6 L965.2,565.6 L965.5,561.7 L965.9,557.7 L966.3,553.7 L966.7,549.7 L967.1,545.7 L967.5,541.7 L967.9,537.8 L968.3,533.8 L968.7,529.8 L969.1,525.8 L969.5,521.8 L969.9,517.8 L970.3,513.8 L970.7,509.9 L971.1,505.9 L971.5,501.9 L971.9,497.9 L972.3,493.9 L972.8,490.0 L973.2,486.0 L973.7,482.0 L974.1,478.0 L974.6,474.0 L975.0,470.1 L975.5,466.1 L975.9,462.1 L976.4,458.1 L976.9,454.2 L977.4,450.2 L978.0,446.2 L978.5,442.3 L979.0,438.3 L979.6,434.3 L980.1,430.3 L980.6,426.4 L981.1,422.4 L981.6,418.4 L982.1,414.5 L982.6,410.5 L983.1,406.5 L983.6,402.5 L984.1,398.6 L984.6,394.6 L985.1,390.6 L985.6,386.6 L986.1,382.7 L986.6,378.7 L987.1,374.7 L987.6,370.8 L988.1,366.8 L988.7,362.8 L989.2,358.9 L989.8,354.9 L990.4,350.9 L991.0,347.0 L991.7,343.0 L992.3,339.1 L993.0,335.1 L993.8,331.2 L994.6,327.3 L995.4,323.4 L996.3,319.5 L997.2,315.6 L998.1,311.7 L999.1,307.8 L1000.0,303.9 L1001.0,300.0 L1002.1,296.2 L1003.1,292.3 L1004.2,288.4 L1005.3,284.6 L1006.4,280.7 L1007.5,276.9 L1008.7,273.1 L1009.9,269.3 L1011.1,265.5 L1012.4,261.7 L1013.8,257.9 L1015.2,254.2 L1016.7,250.5 L1018.3,246.8 L1020.1,243.2 L1022.1,239.8 L1024.4,236.6 L1027.0,233.6 L1030.0,231.0 L1033.3,228.9 L1036.8,227.2 L1040.2,227.4 L1043.6,229.2 L1046.9,231.5 L1049.8,234.2 L1052.2,237.3 L1054.3,240.6 L1056.0,244.2 L1057.3,247.9 L1058.5,251.8 L1059.6,255.6 L1060.7,259.4 L1061.8,263.3 L1063.0,267.1 L1064.1,271.0 L1065.3,274.8 L1066.4,278.6 L1067.6,282.5 L1068.7,286.3 L1069.9,290.1 L1071.0,294.0 L1072.2,297.8 L1073.3,301.6 L1074.4,305.5 L1075.5,309.3 L1076.6,313.2 L1077.6,317.0 L1078.6,320.9 L1079.6,324.8 L1080.6,328.7 L1081.5,332.6 L1082.5,336.5 L1083.5,340.4 L1084.4,344.2 L1085.4,348.1 L1086.4,352.0 L1087.3,355.9 L1088.3,359.8 L1089.3,363.7 L1090.3,367.5 L1091.3,371.4 L1092.2,375.3 L1093.2,379.2 L1094.2,383.1 L1095.1,387.0 L1096.1,390.9 L1097.0,394.7 L1097.9,398.6 L1098.8,402.5 L1099.7,406.4 L1100.6,410.3 L1101.5,414.2 L1102.4,418.1 L1103.3,422.1 L1104.1,426.0 L1104.9,429.9 L1105.7,433.8 L1106.5,437.7 L1107.3,441.7 L1108.1,445.6 L1108.9,449.5 L1109.7,453.4 L1110.4,457.4 L1111.2,461.3 L1112.0,465.2 L1112.8,469.1 L1113.6,473.1 L1114.4,477.0 L1115.2,480.9 L1115.9,484.9 L1116.7,488.8 L1117.5,492.7 L1118.3,496.6 L1119.1,500.6 L1119.9,504.5 L1120.7,508.4 L1121.4,512.3 L1122.2,516.3 L1123.0,520.2 L1123.8,524.1 L1124.6,528.0 L1125.4,532.0 L1126.1,535.9 L1126.9,539.8 L1127.7,543.7 L1128.5,547.7 L1129.3,551.6 L1130.1,555.5 L1130.9,559.4 L1131.6,563.4 L1132.4,567.3 L1133.2,571.2 L1134.0,575.2 L1134.8,579.1 L1135.6,583.0 L1136.4,586.9 L1137.1,590.9 L1137.9,594.8 L1138.7,598.7 L1139.4,602.7 L1140.0,606.6 L1140.6,610.6 L1141.1,614.5 L1141.7,618.5 L1142.2,622.5 L1142.7,626.4 L1143.2,630.4 L1143.7,634.4 L1144.2,638.4 L1144.7,642.3 L1145.2,646.3 L1145.8,650.3 L1146.4,654.2 L1147.1,658.2 L1147.8,662.1 L1148.7,666.0 L1149.5,669.9 L1150.4,673.8 L1151.2,677.7 L1152.1,681.6 L1152.9,685.6 L1153.7,689.5 L1154.5,693.4 L1155.3,697.3 L1156.0,701.3 L1156.7,705.2 L1157.4,709.1 L1158.1,713.1 L1158.8,717.0 L1159.6,721.0 L1160.3,724.9 L1161.0,728.8 L1161.8,732.8 L1162.6,736.7 L1163.4,740.6 L1164.2,744.5 L1164.9,748.5 L1165.7,752.4 L1166.5,756.3 L1167.2,760.3 L1167.9,764.2 L1168.6,768.2 L1169.2,772.1 L1169.8,776.1 L1170.4,780.0 L1171.0,784.0 L1171.6,787.9 L1172.2,791.9 L1172.8,795.9 L1173.4,799.8 L1174.0,803.8 L1174.6,807.7 L1175.2,811.7 L1175.8,815.7 L1176.3,819.6 L1176.9,823.6 L1177.6,827.5 L1178.2,831.5 L1178.9,835.4 L1179.7,839.3 L1180.6,843.3 L1181.4,847.2 L1182.3,851.1 L1183.1,855.0 L1184.0,858.9 L1184.8,862.8 L1185.7,866.7 L1186.5,870.6 L1187.4,874.5 L1188.2,878.5 L1189.1,882.4 L1189.9,886.3 L1190.7,890.2 L1191.6,894.1 L1192.4,898.0 L1193.3,901.9 L1194.2,905.8 L1195.1,909.7 L1196.1,913.6 L1197.1,917.5 L1198.1,921.4 L1199.0,925.3 L1200.0,929.1 L1201.0,933.0 L1202.0,936.9 L1203.0,940.8 L1203.9,944.7 L1204.9,948.6 L1205.8,952.5 L1206.8,956.3 L1207.8,960.2 L1208.7,964.1 L1209.7,968.0 L1210.7,971.9 L1211.6,975.8 L1212.6,979.7 L1213.5,983.6 L1214.3,987.5 L1215.2,991.4 L1216.0,995.3 L1216.8,999.2 L1217.7,1003.1 L1218.5,1007.0 L1219.4,1010.9 L1220.3,1014.8 L1221.3,1018.7 L1222.3,1022.6 L1223.2,1026.5 L1224.2,1030.4 L1225.2,1034.3 L1226.2,1038.1 L1227.3,1042.0 L1228.4,1045.8 L1229.5,1049.7 L1230.7,1053.5 L1231.8,1057.3 L1233.0,1061.2 L1234.1,1065.0 L1235.3,1068.8 L1236.4,1072.7 L1237.6,1076.5 L1238.7,1080.4 L1239.9,1084.2 L1241.0,1088.0 L1242.2,1091.9 L1243.3,1095.7 L1244.5,1099.5 L1245.7,1103.3 L1246.9,1107.2 L1248.1,1111.0 L1249.3,1114.8 L1250.5,1118.6 L1251.7,1122.4 L1252.9,1126.3 L1254.1,1130.1 L1255.3,1133.9 L1256.5,1137.7 L1257.6,1141.6 L1258.8,1145.4 L1260.0,1149.2 L1261.2,1153.0 L1262.4,1156.9 L1263.5,1160.7 L1264.7,1164.5 L1265.9,1168.3 L1267.0,1172.2 L1268.2,1176.0 L1269.4,1179.8 L1270.6,1183.6 L1272.0,1187.4 L1273.5,1191.0 L1275.2,1194.7 L1276.9,1198.3 L1278.6,1201.9 L1280.2,1205.6 L1281.7,1209.2 L1283.3,1212.9 L1285.0,1216.5 L1286.7,1220.1 L1288.5,1223.7 L1290.3,1227.3 L1292.1,1230.8 L1293.7,1234.5 L1295.3,1238.2 L1296.8,1241.9 L1298.2,1245.6 L1299.8,1249.3 L1301.3,1253.0 L1303.0,1256.6 L1304.6,1260.3 L1306.4,1263.9 L1308.2,1267.4 L1310.0,1271.0 L1311.9,1274.5 L1313.8,1278.0 L1315.9,1281.5 L1317.9,1284.9 L1320.1,1288.3 L1322.4,1291.6 L1324.6,1294.8 L1327.0,1298.1 L1329.3,1301.4 L1331.6,1304.6 L1333.9,1307.9 L1336.3,1311.1 L1338.6,1314.4 L1340.9,1317.7 L1343.3,1320.9 L1345.6,1324.1 L1348.0,1327.4 L1350.4,1330.6 L1352.8,1333.8 L1355.3,1336.9 L1357.8,1340.0 L1360.3,1343.1 L1362.9,1346.2 L1365.6,1349.2 L1368.3,1352.1 L1371.0,1355.0 L1373.8,1357.9 L1376.6,1360.8 L1379.3,1363.7 L1382.0,1366.6 L1384.5,1369.5 L1386.8,1372.3 L1388.7,1374.8 L1390.1,1376.9 L1392.9,1382.9" stroke="#000080"/>
<path d="M1011.0,1467.1 L1015.9,1463.5 L1018.1,1461.9 L1020.8,1459.8 L1023.6,1457.3 L1026.4,1454.5 L1029.2,1451.6 L1031.9,1448.7 L1034.7,1445.9 L1037.6,1443.2 L1040.7,1440.7 L1043.9,1438.4 L1047.3,1436.5 L1050.9,1435.2 L1054.7,1434.4 L1058.6,1434.2 L1062.5,1434.4 L1066.4,1435.1 L1070.2,1436.1 L1074.1,1437.2 L1077.9,1438.4 L1081.7,1439.5 L1085.6,1440.7 L1089.4,1441.8 L1093.3,1442.8 L1097.2,1443.7 L1101.1,1444.6 L1105.0,1445.4 L1108.9,1446.2 L1112.9,1446.8 L1116.8,1447.3 L1120.8,1447.8 L1124.8,1448.1 L1128.8,1448.3 L1132.8,1448.4 L1136.8,1448.4 L1140.8,1448.3 L1144.7,1448.0 L1148.7,1447.5 L1152.7,1447.0 L1156.6,1446.3 L1160.5,1445.3 L1164.3,1444.3 L1168.1,1443.1 L1172.0,1441.9 L1175.7,1440.5 L1179.5,1439.1 L1183.2,1437.7 L1186.9,1436.1 L1190.5,1434.4 L1193.9,1432.5 L1197.3,1430.3 L1200.6,1428.1 L1203.9,1425.8 L1207.1,1423.5 L1210.3,1421.0 L1213.4,1418.5 L1216.4,1415.9 L1219.4,1413.2 L1222.4,1410.5 L1225.3,1407.8 L1228.1,1404.9 L1230.8,1402.0 L1233.4,1398.9 L1235.9,1395.8 L1238.4,1392.7 L1240.8,1389.5 L1243.3,1386.4 L1245.6,1383.1 L1248.0,1379.9 L1250.3,1376.6 L1252.5,1373.3 L1254.8,1370.0 L1257.0,1366.6 L1259.1,1363.2 L1261.2,1359.8 L1263.2,1356.4 L1265.3,1352.9 L1267.3,1349.5 L1269.2,1346.0 L1271.2,1342.5 L1273.1,1339.0 L1275.0,1335.5 L1276.9,1331.9 L1278.8,1328.4 L1280.8,1324.9 L1282.7,1321.4 L1284.6,1317.9 L1286.5,1314.3 L1288.3,1310.8 L1290.0,1307.1 L1291.6,1303.5 L1293.2,1299.8 L1294.7,1296.1 L1296.2,1292.4 L1297.8,1288.7 L1299.3,1285.0 L1300.9,1281.3 L1302.4,1277.6 L1303.9,1273.9 L1305.5,1270.2 L1307.0,1266.5 L1308.5,1262.8 L1309.9,1259.1 L1311.4,1255.3 L1312.8,1251.6 L1314.2,1247.9 L1315.6,1244.1 L1316.9,1240.3 L1318.1,1236.5 L1319.3,1232.7 L1320.5,1228.9 L1321.7,1225.0 L1322.9,1221.2 L1324.0,1217.4 L1325.2,1213.6 L1326.3,1209.7 L1327.5,1205.9 L1328.6,1202.0 L1329.6,1198.2 L1330.6,1194.3 L1331.5,1190.4 L1332.4,1186.5 L1333.3,1182.6 L1334.2,1178.7 L1335.1,1174.8 L1336.1,1170.9 L1337.0,1167.0 L1338.1,1163.1 L1339.1,1159.3 L1340.3,1155.4 L1341.4,1151.6 L1342.6,1147.8 L1343.7,1143.9 L1344.9,1140.1 L1346.0,1136.3 L1347.2,1132.4 L1348.3,1128.6 L1349.5,1124.8 L1350.7,1120.9 L1351.9,1117.1 L1353.0,1113.3 L1354.2,1109.5 L1355.4,1105.6 L1356.6,1101.8 L1357.8,1098.0 L1358.9,1094.2 L1360.1,1090.3 L1361.2,1086.5 L1362.2,1082.6 L1363.2,1078.7 L1364.3,1074.9 L1365.3,1071.0 L1366.4,1067.1 L1367.4,1063.3 L1368.6,1059.4 L1369.8,1055.6 L1371.0,1051.8 L1372.2,1048.0 L1373.5,1044.2 L1374.7,1040.4 L1375.9,1036.6 L1377.2,1032.8 L1378.4,1029.0 L1379.6,1025.1 L1380.9,1021.3 L1382.1,1017.5 L1383.3,1013.7 L1384.5,1009.9 L1385.7,1006.1 L1386.9,1002.2 L1388.1,998.4 L1389.3,994.6 L1390.6,990.8 L1391.9,987.0 L1393.4,983.3 L1394.9,979.6 L1396.5,975.9 L1398.1,972.3 L1399.7,968.6 L1401.3,964.9 L1402.9,961.3 L1404.5,957.6 L1406.1,953.9 L1407.8,950.3 L1409.5,946.7 L1411.3,943.1 L1413.1,939.5 L1415.0,936.0 L1416.8,932.4 L1418.6,928.9 L1420.5,925.3 L1422.3,921.7 L1424.1,918.2 L1426.0,914.7 L1428.0,911.2 L1430.0,907.7 L1432.0,904.2 L1434.0,900.8 L1436.1,897.4 L1438.1,893.9 L1440.1,890.5 L1442.1,887.0 L1444.1,883.5 L1446.2,880.1 L1448.4,876.8 L1450.8,873.6 L1453.4,870.6 L1456.1,867.7 L1458.9,864.8 L1461.7,862.0 L1464.5,859.1 L1467.5,856.5 L1470.6,853.9 L1473.8,851.6 L1477.1,849.3 L1480.4,847.0 L1483.6,844.6 L1486.8,842.2 L1490.0,839.8 L1493.2,837.5 L1496.6,836.0 L1500.5,836.1 L1504.5,836.4 L1508.5,836.8 L1512.5,837.2 L1516.4,837.7 L1520.3,838.6 L1524.1,839.8 L1527.9,841.0 L1531.7,842.4 L1535.4,843.9 L1539.0,845.6 L1542.5,847.5 L1545.8,849.7 L1548.7,852.4 L1551.4,855.2 L1554.2,858.0 L1557.3,860.4 L1560.7,862.5 L1563.9,864.7 L1566.9,867.2 L1569.6,870.0 L1572.2,873.1 L1574.6,876.2 L1577.0,879.4 L1579.4,882.6 L1581.8,885.8 L1584.2,889.1 L1586.6,892.3 L1588.9,895.5 L1591.2,898.8 L1593.5,902.1 L1595.7,905.4 L1598.0,908.7 L1600.3,911.9 L1602.8,915.1 L1605.3,918.2 L1607.9,921.3 L1610.4,924.4 L1612.9,927.5 L1615.4,930.7 L1617.8,933.8 L1620.2,937.0 L1622.6,940.2 L1625.0,943.5 L1627.3,946.7 L1629.6,950.0 L1631.8,953.3 L1633.9,956.7 L1636.0,960.1 L1638.1,963.5 L1640.3,966.9 L1642.6,970.2 L1645.0,973.4 L1647.4,976.5 L1649.9,979.7 L1652.3,982.9 L1654.6,986.1 L1656.8,989.5 L1658.8,992.9 L1660.6,996.5 L1662.5,1000.0 L1664.4,1003.5 L1666.5,1006.9 L1668.8,1010.1 L1671.2,1013.3 L1673.7,1016.4 L1676.2,1019.6 L1678.6,1022.8 L1680.9,1026.1 L1683.1,1029.4 L1685.2,1032.8 L1687.3,1036.2 L1689.4,1039.6 L1691.5,1043.0 L1693.7,1046.3 L1696.0,1049.7 L1698.2,1052.9 L1700.5,1056.2 L1702.8,1059.5 L1705.1,1062.8 L1707.4,1066.1 L1709.7,1069.4 L1712.0,1072.6 L1714.3,1075.9 L1716.4,1079.3 L1718.5,1082.7 L1720.4,1086.2 L1722.2,1089.8 L1724.1,1093.3 L1726.0,1096.8 L1728.1,1100.2 L1730.4,1103.5 L1732.8,1106.6 L1735.3,1109.8 L1737.8,1112.9 L1740.2,1116.1 L1742.5,1119.4 L1744.7,1122.7 L1746.8,1126.1 L1748.9,1129.6 L1750.9,1133.0 L1753.0,1136.4 L1755.0,1139.9 L1757.0,1143.4 L1759.0,1146.8 L1761.0,1150.3 L1763.1,1153.7 L1765.2,1157.1 L1767.5,1160.4 L1769.8,1163.6 L1772.2,1166.9 L1774.5,1170.1 L1776.8,1173.4 L1779.2,1176.6 L1781.5,1179.9 L1783.8,1183.2 L1786.1,1186.4 L1788.4,1189.7 L1790.8,1192.9 L1793.2,1196.1 L1795.7,1199.3 L1798.2,1202.4 L1800.7,1205.5 L1803.2,1208.6 L1805.7,1211.8 L1808.2,1214.9 L1810.7,1218.0 L1813.2,1221.2 L1815.7,1224.3 L1818.2,1227.4 L1820.7,1230.5 L1823.3,1233.6 L1825.8,1236.7 L1828.3,1239.8 L1830.9,1242.9 L1833.5,1246.0 L1836.0,1249.0 L1838.6,1252.1 L1841.1,1255.2 L1843.7,1258.3 L1846.2,1261.4 L1848.8,1264.5 L1851.3,1267.6 L1853.9,1270.6 L1856.4,1273.7 L1859.0,1276.8 L1861.5,1279.9 L1864.1,1283.0 L1866.6,1286.1 L1869.2,1289.1 L1871.8,1292.2 L1874.3,1295.3 L1876.9,1298.3 L1879.7,1301.2 L1882.5,1304.0 L1885.4,1306.7 L1888.5,1309.4 L1891.5,1312.0 L1894.5,1314.6 L1897.4,1317.3 L1900.3,1320.1 L1903.1,1323.0 L1905.8,1325.9 L1908.5,1328.9 L1911.2,1331.8 L1914.0,1334.7 L1916.9,1337.5 L1919.9,1340.1 L1923.0,1342.5 L1926.3,1344.8 L1929.5,1347.1 L1932.8,1349.4 L1936.2,1351.6 L1939.6,1353.8 L1943.0,1355.9 L1946.4,1357.9 L1949.8,1360.0 L1953.2,1362.1 L1956.5,1364.3 L1959.9,1366.6 L1963.2,1368.8 L1966.5,1371.1 L1969.8,1373.4 L1973.1,1375.5 L1976.5,1377.6 L1980.0,1379.6 L1983.5,1381.5 L1987.0,1383.4 L1990.6,1385.3 L1994.2,1387.0 L1997.9,1388.6 L2001.6,1390.1 L2005.3,1391.6 L2009.0,1393.0 L2012.8,1394.4 L2016.5,1395.8 L2020.3,1397.1 L2024.1,1398.5 L2027.8,1399.9 L2031.5,1401.4 L2035.2,1402.9 L2038.9,1404.5 L2042.5,1406.2 L2046.2,1407.7 L2049.9,1409.2 L2053.7,1410.6 L2057.4,1412.0 L2061.2,1413.3 L2065.0,1414.6 L2068.8,1415.8 L2072.7,1417.0 L2076.5,1418.2 L2080.3,1419.3 L2084.2,1420.3 L2088.1,1421.3 L2092.0,1422.2 L2095.9,1423.0 L2099.8,1423.8 L2103.7,1424.7 L2107.6,1425.7 L2111.4,1426.8 L2115.3,1428.0 L2119.1,1429.1 L2122.9,1430.2 L2126.8,1431.4 L2130.6,1432.5 L2134.4,1433.5 L2138.3,1434.3 L2142.1,1434.5 L2145.9,1434.3 L2149.6,1434.0 L2153.3,1434.1 L2156.8,1434.7 L2160.3,1435.4 L2163.8,1435.4 L2167.1,1434.5 L2170.0,1432.8 L2172.5,1431.1 L2174.5,1430.2 L2176.3,1431.0 L2178.1,1433.0 L2180.3,1435.6 L2183.1,1437.9 L2186.4,1439.7 L2190.0,1441.0 L2193.9,1441.9 L2197.8,1442.6 L2201.8,1443.1 L2205.7,1443.6 L2209.7,1444.1 L2213.7,1444.6 L2217.7,1445.1 L2221.6,1445.5 L2225.6,1445.8 L2229.6,1445.9 L2233.6,1445.9 L2237.6,1445.7 L2241.6,1445.4 L2245.5,1444.9 L2249.4,1444.2 L2253.3,1443.3 L2257.2,1442.2 L2261.0,1441.2 L2264.7,1440.2 L2267.9,1439.3 L2270.6,1438.5 L2276.4,1436.8" stroke="#8f00ff"/>
</g>
</svg>
</body></html>
